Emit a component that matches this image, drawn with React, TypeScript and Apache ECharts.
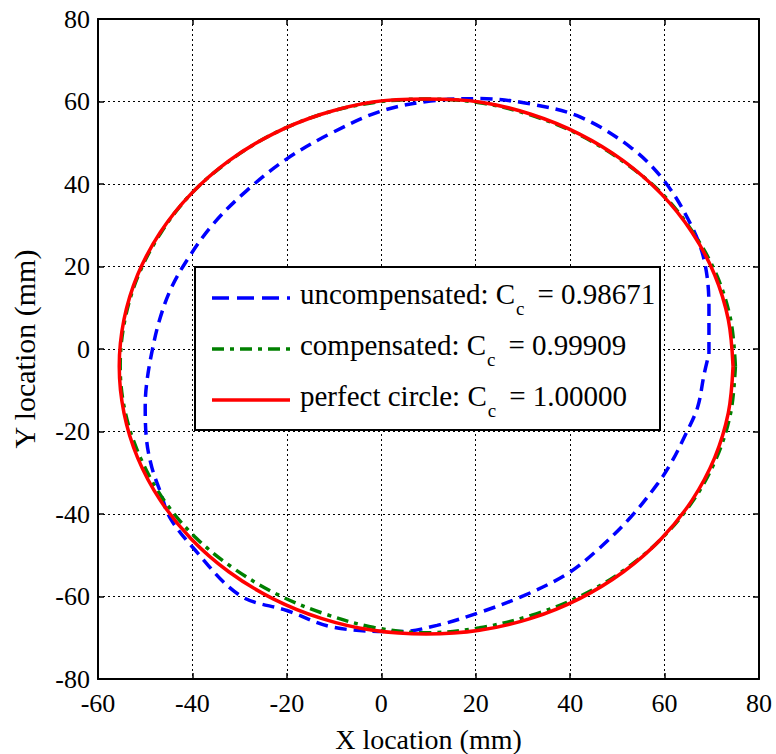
import React, { useEffect, useRef } from "react";
import * as echarts from "echarts";

// Axis ranges / ticks
const xMin = -60;
const xMax = 80;
const yMin = -80;
const yMax = 80;
const tickStep = 20;

// Series names and circularity values
const seriesNames = ["uncompensated", "compensated", "perfect circle"];
const ccValues = ["0.98671", "0.99909", "1.00000"];
const seriesColors = ["#0000ff", "#008000", "#ff0000"];

// Measured contour: uncompensated (x, y in mm)
const uncompensated: [number, number][] = [
  [69.4, -1.2], [69.4, 10.1], [68.4, 21.5], [65.5, 30.3], [59.9, 40.8],
  [52.8, 48.9], [42.2, 56.2], [31.6, 59.4], [21.0, 60.7], [10.4, 60.1],
  [-0.2, 57.6], [-10.8, 52.2], [-20.0, 46.1], [-28.5, 38.4], [-35.6, 30.3],
  [-41.0, 21.8], [-44.6, 14.5], [-47.0, 6.9], [-48.6, -0.8], [-49.7, -8.4],
  [-50.0, -14.1], [-49.7, -22.2], [-48.6, -28.7], [-46.9, -34.3], [-44.8, -40.8],
  [-40.0, -48.0], [-30.0, -59.7], [-20.0, -63.4], [-10.0, -67.5], [4.0, -68.5],
  [11.8, -67.0], [21.0, -63.8], [30.2, -59.8], [39.4, -54.5], [45.7, -48.8],
  [52.8, -40.8], [58.5, -32.7], [61.3, -27.8], [64.5, -20.6], [67.0, -14.1],
  [68.4, -6.0], [69.4, -1.2],
];

// Measured contour: compensated
const compensated: [number, number][] = [
  [75.0, -4.2], [74.0, 7.1], [71.0, 18.0], [66.0, 28.3], [59.5, 37.6],
  [51.3, 45.4], [42.0, 51.9], [31.7, 56.7], [20.8, 59.7], [9.5, 60.6],
  [-1.8, 59.7], [-12.7, 56.9], [-23.0, 52.1], [-32.3, 45.5], [-40.3, 37.6],
  [-46.6, 28.3], [-51.4, 18.0], [-54.3, 7.1], [-55.3, -4.2], [-54.2, -15.5],
  [-51.0, -26.4], [-46.0, -36.7], [-39.5, -45.5], [-31.5, -53.0], [-22.0, -59.5],
  [-12.0, -64.2], [-1.5, -67.5], [9.5, -68.8], [20.8, -67.6], [31.7, -64.6],
  [42.0, -60.0], [51.3, -53.7], [59.5, -45.8], [66.2, -36.5], [71.0, -26.4],
  [74.0, -15.5], [75.0, -4.2],
];

// Reference contour: perfect circle
const perfectCircle: [number, number][] = [
  [74.5, -4.2], [73.5, 7.1], [70.6, 18.0], [65.8, 28.3], [59.3, 37.6],
  [51.3, 45.6], [42.0, 52.1], [31.7, 56.9], [20.8, 59.9], [9.5, 60.6],
  [-1.8, 59.9], [-12.7, 56.9], [-23.0, 52.1], [-32.3, 45.6], [-40.3, 37.6],
  [-46.8, 28.3], [-51.6, 18.0], [-54.5, 7.1], [-55.5, -4.2], [-54.5, -15.5],
  [-51.6, -26.4], [-46.8, -36.7], [-40.3, -46.0], [-32.3, -54.0], [-23.0, -60.5],
  [-12.7, -65.3], [-1.8, -68.2], [9.5, -69.1], [20.8, -68.2], [31.7, -65.3],
  [42.0, -60.5], [51.3, -54.0], [59.3, -46.0], [65.8, -36.7], [70.6, -26.4],
  [73.5, -15.5], [74.5, -4.2],
];

const seriesData = [uncompensated, compensated, perfectCircle];
const lineTypes: any[] = [[12, 7], [12, 6, 4, 6], "solid"];
const legendDashes: any[] = [[17, 8], [12, 6, 4, 6], null];

const FONT = "'Liberation Serif', 'Times New Roman', Times, 'DejaVu Serif', serif";

function measure(text: string, size: number): number {
  const c = document.createElement("canvas").getContext("2d");
  if (!c) return text.length * size * 0.5;
  c.font = `${size}px ${FONT}`;
  return c.measureText(text).width;
}

export default function App() {
  const ref = useRef<HTMLDivElement>(null);

  useEffect(() => {
    if (!ref.current) return;
    const chart = echarts.init(ref.current, null, { renderer: "svg" });

    const labelStyle = { color: "#000", fontFamily: FONT, fontSize: 26 };
    const axisLineStyle = { color: "#000", width: 2 };
    const tickStyle = { color: "#000", width: 1.5 };
    const splitStyle = { color: "#000", width: 1, type: [2, 3] as any };

    // Legend drawn as graphic elements
    const legendX = 195, legendY = 267, legendW = 465, legendH = 163;
    const rowY = [298, 349, 400];
    const mainSize = 29, subSize = 19;
    const graphics: any[] = [
      {
        type: "rect",
        z: 100,
        shape: { x: legendX, y: legendY, width: legendW, height: legendH },
        style: { fill: "#fff", stroke: "#000", lineWidth: 2 },
      },
    ];
    seriesNames.forEach((name, i) => {
      const y = rowY[i];
      graphics.push({
        type: "line",
        z: 101,
        shape: { x1: 212, y1: y, x2: 290, y2: y },
        style: {
          stroke: seriesColors[i],
          lineWidth: 3.5,
          lineDash: legendDashes[i] || undefined,
        },
      });
      const partA = `${name}: C`;
      const wA = measure(partA, mainSize);
      const wSub = measure("c", subSize);
      const x0 = 300;
      graphics.push({
        type: "text",
        z: 101,
        style: {
          x: x0, y: y - 4.5, text: partA, fill: "#000",
          fontFamily: FONT, fontSize: mainSize, textAlign: "left", verticalAlign: "middle",
        },
      });
      graphics.push({
        type: "text",
        z: 101,
        style: {
          x: x0 + wA + 1, y: y + 10.5, text: "c", fill: "#000",
          fontFamily: FONT, fontSize: subSize, textAlign: "left", verticalAlign: "middle",
        },
      });
      graphics.push({
        type: "text",
        z: 101,
        style: {
          x: x0 + wA + 1 + wSub + 13, y: y - 4.5, text: `= ${ccValues[i]}`, fill: "#000",
          fontFamily: FONT, fontSize: mainSize, textAlign: "left", verticalAlign: "middle",
        },
      });
    });

    const option: any = {
      animation: false,
      backgroundColor: "#fff",
      textStyle: { fontFamily: FONT },
      grid: {
        left: 98, right: 17, top: 19, bottom: 75,
        containLabel: false,
        outerBoundsMode: "none",
      },
      xAxis: [
        {
          type: "value", min: xMin, max: xMax, interval: tickStep, position: "bottom",
          name: "X location (mm)", nameLocation: "middle", nameGap: 46,
          nameTextStyle: { color: "#000", fontFamily: FONT, fontSize: 28 },
          axisLine: { show: true, onZero: false, lineStyle: axisLineStyle },
          axisTick: { show: true, inside: true, length: 6, lineStyle: tickStyle },
          axisLabel: { ...labelStyle, margin: 11 },
          splitLine: { show: true, lineStyle: splitStyle },
        },
        {
          type: "value", min: xMin, max: xMax, interval: tickStep, position: "top",
          axisLine: { show: true, onZero: false, lineStyle: axisLineStyle },
          axisTick: { show: true, inside: true, length: 6, lineStyle: tickStyle },
          axisLabel: { show: false },
          splitLine: { show: false },
        },
      ],
      yAxis: [
        {
          type: "value", min: yMin, max: yMax, interval: tickStep, position: "left",
          name: "Y location (mm)", nameLocation: "middle", nameGap: 59,
          nameTextStyle: { color: "#000", fontFamily: FONT, fontSize: 30 },
          axisLine: { show: true, onZero: false, lineStyle: axisLineStyle },
          axisTick: { show: true, inside: true, length: 6, lineStyle: tickStyle },
          axisLabel: { ...labelStyle, margin: 8 },
          splitLine: { show: true, lineStyle: splitStyle },
        },
        {
          type: "value", min: yMin, max: yMax, interval: tickStep, position: "right",
          axisLine: { show: true, onZero: false, lineStyle: axisLineStyle },
          axisTick: { show: true, inside: true, length: 6, lineStyle: tickStyle },
          axisLabel: { show: false },
          splitLine: { show: false },
        },
      ],
      series: seriesNames.map((name, i) => ({
        name,
        type: "line",
        xAxisIndex: 0,
        yAxisIndex: 0,
        data: seriesData[i],
        showSymbol: false,
        symbol: "none",
        smooth: 0.35,
        z: 2 + i,
        lineStyle: { color: seriesColors[i], width: 3.5, type: lineTypes[i] },
      })),
      graphic: graphics,
    };

    chart.setOption(option);
    return () => chart.dispose();
  }, []);

  return (
    <div
      ref={ref}
      style={{ position: "fixed", left: 0, top: 0, width: 776, height: 754 }}
    />
  );
}
